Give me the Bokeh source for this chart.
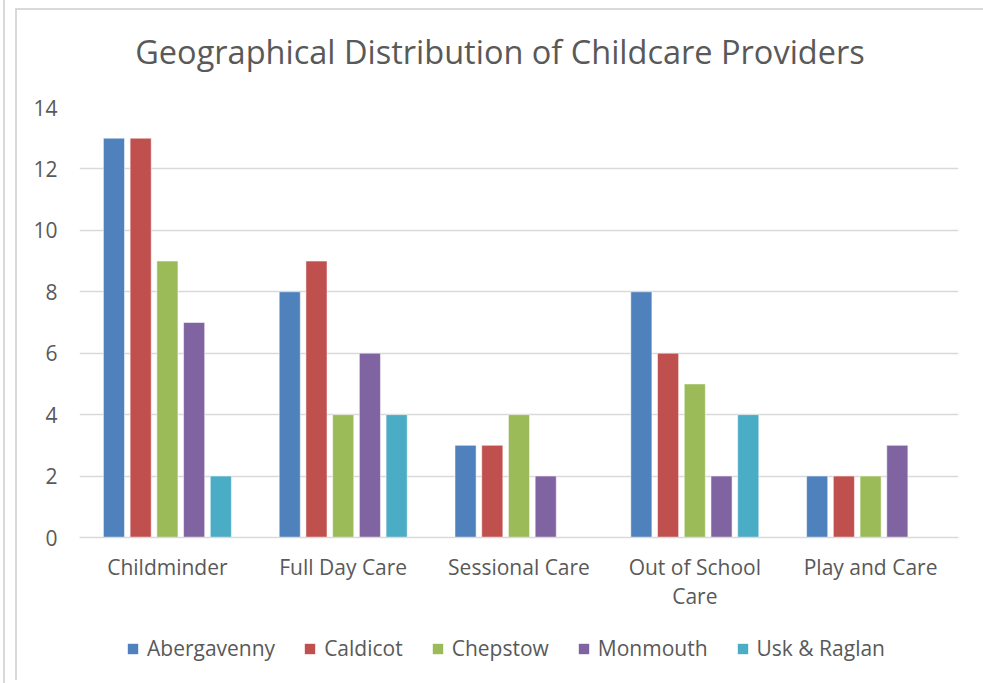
from bokeh.plotting import figure
from bokeh.layouts import column, row
from bokeh.models import ColumnDataSource, FixedTicker, Range1d, Legend, LegendItem, Div
from bokeh.transform import dodge
from bokeh.embed import file_html
from bokeh.resources import INLINE

title_text = "Geographical Distribution of Childcare Providers"
categories = ["Childminder", "Full Day Care", "Sessional Care", "Out of School Care", "Play and Care"]
tick_labels = ["Childminder", "Full Day Care", "Sessional Care", "Out of School\nCare", "Play and Care"]
series_names = ["Abergavenny", "Caldicot", "Chepstow", "Monmouth", "Usk & Raglan"]
abergavenny = [13, 8, 3, 8, 2]
caldicot = [13, 9, 3, 6, 2]
chepstow = [9, 4, 4, 5, 2]
monmouth = [7, 6, 2, 2, 3]
usk_raglan = [2, 4, 0, 4, 0]
colors = ["#4F81BD", "#C0504D", "#9BBB59", "#8064A2", "#4BACC6"]
y_ticks = [0, 2, 4, 6, 8, 10, 12, 14]

FONT = "Open Sans"
TXT = "#595959"

xs = list(range(len(categories)))
data = dict(x=xs, a=abergavenny, b=caldicot, c=chepstow, d=monmouth, e=usk_raglan)
src = ColumnDataSource(data)

title = Div(text=title_text, width=966, height=84, margin=(0, 0, 0, 0),
            styles={"font-family": "'Open Sans'", "font-size": "32.5px", "color": TXT,
                    "text-align": "center", "line-height": "84px", "white-space": "nowrap"})

p = figure(width=966, height=526, output_backend="svg", toolbar_location=None,
           x_range=Range1d(-0.5, len(categories) - 0.5), y_range=Range1d(0, 14),
           min_border_left=62, min_border_right=25, min_border_top=13, min_border_bottom=83)

offsets = [-0.304, -0.152, 0.0, 0.152, 0.304]
cols = ["a", "b", "c", "d", "e"]
for col, off, colr in zip(cols, offsets, colors):
    p.vbar(x=dodge("x", off, range=p.x_range), top=col, width=0.12, source=src,
           fill_color=colr, line_color="white", line_alpha=0.5, line_width=1)

p.xaxis.ticker = FixedTicker(ticks=xs)
p.xaxis.major_label_overrides = {i: lab for i, lab in zip(xs, tick_labels)}
p.yaxis.ticker = FixedTicker(ticks=y_ticks)

for ax in (p.xaxis, p.yaxis):
    ax.major_label_text_font = FONT
    ax.major_label_text_font_size = "21px"
    ax.major_label_text_color = TXT
    ax.major_tick_line_color = None
    ax.minor_tick_line_color = None
p.yaxis.axis_line_color = None
p.yaxis.major_label_standoff = 16
p.xaxis.axis_line_color = "#d9d9d9"
p.xaxis.axis_line_width = 1.5
p.xaxis.major_label_standoff = 9
p.xaxis.major_label_text_line_height = 1.05

p.xgrid.grid_line_color = None
p.ygrid.grid_line_color = "#d9d9d9"
p.ygrid.grid_line_width = 1.5
p.outline_line_color = None

# legend strip below the chart (zero-size placeholder glyphs only carry the legend swatches)
lg = figure(width=966, height=60, output_backend="svg", toolbar_location=None,
            x_range=Range1d(0, 1), y_range=Range1d(0, 1),
            min_border_left=0, min_border_right=0, min_border_top=0, min_border_bottom=0)
lg.axis.visible = False
lg.grid.visible = False
lg.outline_line_color = None
items = []
for name, colr in zip(series_names, colors):
    r = lg.vbar(x=[0], top=[0], bottom=[0], width=0, fill_color=colr, line_color=None)
    items.append(LegendItem(label=name, renderers=[r]))
legend = Legend(items=items, orientation="horizontal", location=(47, 18),
                border_line_color=None, background_fill_alpha=0,
                label_text_font=FONT, label_text_font_size="21px", label_text_color=TXT,
                glyph_width=13, glyph_height=13, label_standoff=8, spacing=28,
                padding=0, margin=0)
lg.add_layout(legend, "center")

chart = column(title, p, lg, spacing=0)
chart.styles = {"border-left": "2px solid #d9d9d9", "border-top": "2px solid #d9d9d9",
                "margin-left": "10px", "margin-top": "8px"}

edge = Div(text="", width=2, height=683, margin=(0, 0, 0, 3),
           styles={"background-color": "#d9d9d9"})

layout = row(edge, chart, spacing=0)

open("out.html", "w").write(file_html(layout, INLINE))
